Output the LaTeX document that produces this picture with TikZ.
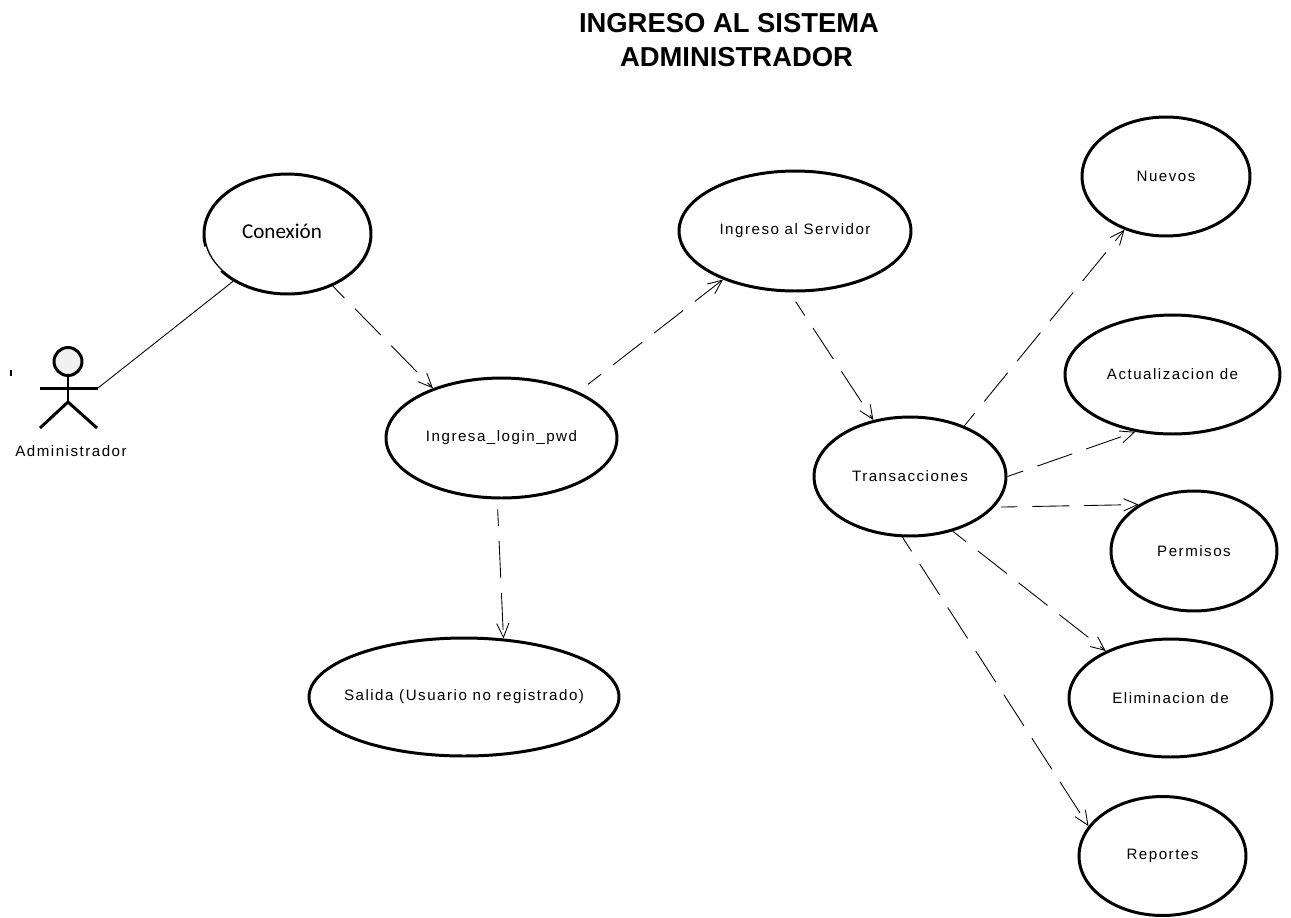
\documentclass[tikz,border=0pt]{standalone}
\usepackage{fontspec}
\setmainfont{Liberation Sans}
\newfontfamily\labelfont[LetterSpace=10]{Liberation Sans}
\newfontfamily\conexfont{Carlito}
\usetikzlibrary{arrows.meta}
\usetikzlibrary{shapes.geometric}
\tikzset{
	usecase/.style={draw,ellipse,line width=1.7pt,inner sep=0pt,font=\labelfont\fontsize{8.6}{10}\selectfont},
	dep/.style={-{Straight Barb[length=8pt,width=7pt]},line width=0.5pt,dash pattern=on 21pt off 8.5pt,dash phase=11.5pt},
	stick/.style={line width=1.7pt},
	titletext/.style={anchor=base,font=\bfseries\fontsize{15.6}{19}\selectfont}
}
\begin{document}
\begin{tikzpicture}[x=0.02cm,y=-0.02cm]
	\useasboundingbox (0,0) rectangle (1291,917);
	\node[titletext] (title1) at (729,32) {INGRESO AL SISTEMA};
	\node[titletext] (title2) at (736.5,66) {ADMINISTRADOR};
	\node[usecase,minimum width=3.34cm,minimum height=2.4cm] (conexion) at (287.5,234) {};
	\node[font=\conexfont\fontsize{12}{14}\selectfont,inner sep=0pt] (conexiontxt) at (282,231) {Conexi\'on};
	\node[usecase,minimum width=4.64cm,minimum height=2.4cm] (servidor) at (795,231) {Ingreso al Servidor};
	\node[usecase,minimum width=4.62cm,minimum height=2.4cm] (login) at (501.5,438) {Ingresa\_login\_pwd};
	\node[usecase,minimum width=6.2cm,minimum height=2.36cm] (salida) at (464,697) {\makebox[0pt][c]{Salida (Usuario no registrado)}};
	\node[usecase,minimum width=3.84cm,minimum height=2.38cm] (trans) at (910,476.5) {Transacciones};
	\node[usecase,minimum width=3.36cm,minimum height=2.38cm] (nuevos) at (1166,176.5) {Nuevos};
	\node[usecase,minimum width=4.3cm,minimum height=2.38cm] (actual) at (1172.5,374.5) {Actualizacion de};
	\node[usecase,minimum width=3.32cm,minimum height=2.4cm] (permisos) at (1194,551) {Permisos};
	\node[usecase,minimum width=4.06cm,minimum height=2.36cm] (elim) at (1170.5,698) {Eliminacion de};
	\node[usecase,minimum width=3.34cm,minimum height=2.38cm] (reportes) at (1162.5,856) {Reportes};
	% tramo fino del contorno
	\draw[white,line width=1.2pt] (204.8,246.7) arc[start angle=192,end angle=218,x radius=1.67cm,y radius=1.2cm];
	% actor
	\node[draw,circle,fill=black!6,line width=1.7pt,minimum size=0.56cm,inner sep=0pt] (head) at (68,361.5) {};
	\coordinate (hip) at (68,402);
	\coordinate (handl) at (40,388);
	\coordinate (handr) at (98,388);
	\coordinate (footl) at (40,428);
	\coordinate (footr) at (97,428);
	\draw[stick] (head) -- (hip);
	\draw[stick] (handl) -- (handr);
	\draw[stick] (footl) -- (hip) -- (footr);
	\node[font=\labelfont\fontsize{8.6}{10}\selectfont] (actor) at (71,451) {Administrador};
	\node[fill=black,inner sep=0pt,minimum width=0.8pt,minimum height=3pt] (tick) at (11,373) {};
	\draw[line width=0.5pt] (handr) -- (conexion.221);
	% dependencias
	\draw[dep] (conexion.-49) -- (login.144);
	\draw[dep,shorten <=0.24cm] (login.31) -- (servidor.214);
	\draw[dep,shorten <=0.2cm] (login.-94) -- (salida.56);
	\draw[dep,shorten <=0.22cm] (servidor.-95) -- (trans.123);
	\draw[dep] (trans.43) -- (nuevos.232);
	\draw[dep] (trans.0) -- (actual.237);
	\draw[dep,shorten <=0.13cm] (trans.-20) -- (permisos.140);
	\draw[dep] (trans.-52) -- (elim.144);
	\draw[dep] (trans.-97) -- (reportes.158);
\end{tikzpicture}
\end{document}
